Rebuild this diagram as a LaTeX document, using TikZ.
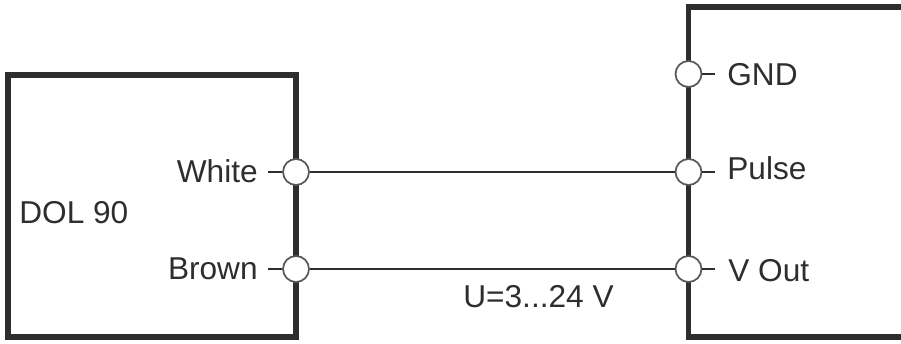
\documentclass[tikz,border=0pt]{standalone}
\usepackage{fontspec}
\setmainfont{Liberation Sans}
\usetikzlibrary{positioning}
\definecolor{inkgray}{HTML}{2E2E2E}
\tikzset{
    wall/.style={line width=1.05mm,color=inkgray},
    wire/.style={line width=0.055cm,color=inkgray},
    pin/.style={circle,draw=inkgray!80,line width=0.035cm,fill=white,minimum size=0.52cm,inner sep=0pt},
    tag/.style={font=\fontsize{18pt}{20pt}\selectfont,text=inkgray,inner sep=0pt}
}
\begin{document}
\begin{tikzpicture}[x=0.02cm,y=-0.02cm]
    \useasboundingbox (0,0) rectangle (901,344);
    \draw[wall] (8,75) rectangle (296,337);
    \draw[wall] (901,7) -- (688.5,7) -- (688.5,337) -- (901,337);
    \node[pin] (white) at (296,172) {};
    \node[pin] (brown) at (296,269) {};
    \node[pin] (gnd) at (688.5,74) {};
    \node[pin] (pulse) at (688.5,172) {};
    \node[pin] (vout) at (688.5,269) {};
    \draw[wire] (white) -- (pulse);
    \draw[wire] (brown) -- (vout);
    \node[tag,anchor=base east] (whitetag) at (258,182) {White};
    \node[tag,anchor=base east] (browntag) at (258,279) {Brown};
    \node[tag,anchor=base west] (gndtag) at (727,86) {GND};
    \node[tag,anchor=base west] (pulsetag) at (727,179) {Pulse};
    \node[tag,anchor=base west] (vouttag) at (728,281) {V Out};
    \node[tag,anchor=base west] (dol) at (19,223) {DOL 90};
    \node[tag,anchor=base west] (volt) at (463,307) {U=3...24 V};
    \coordinate (whitestub) at (268,172);
    \coordinate (brownstub) at (268,269);
    \coordinate (gndstub) at (715,74);
    \coordinate (pulsestub) at (715,172);
    \coordinate (voutstub) at (715,269);
    \draw[wire] (whitestub) -- (white);
    \draw[wire] (brownstub) -- (brown);
    \draw[wire] (gnd) -- (gndstub);
    \draw[wire] (pulse) -- (pulsestub);
    \draw[wire] (vout) -- (voutstub);
\end{tikzpicture}
\end{document}
